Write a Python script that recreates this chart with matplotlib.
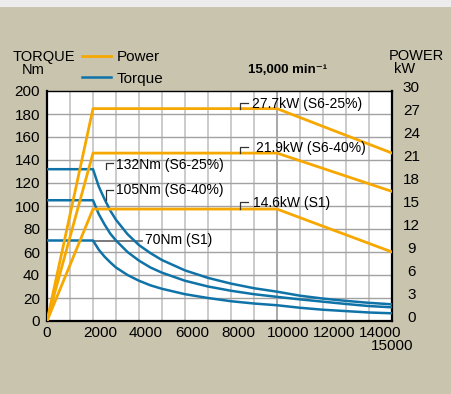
import matplotlib
matplotlib.use('Agg')
import matplotlib.pyplot as plt
import matplotlib.transforms as mtransforms
from matplotlib.lines import Line2D
from matplotlib.patches import Rectangle
from matplotlib.ticker import FixedLocator

plt.rcParams['font.family'] = ['Liberation Sans', 'DejaVu Sans']

# torque curves (Nm)
speed = [0, 2000, 2250, 2500, 2750, 3000, 3500, 4000, 4500, 5000, 6000,
         7000, 8000, 9000, 10000, 11000, 12000, 13000, 14000, 15000]
torque_s6_25 = [132, 132, 117, 106, 96, 88, 75.5, 66, 59, 53, 44,
                37.5, 32.5, 28.5, 25.5, 22, 19.5, 17.5, 15.8, 14.5]
torque_s6_40 = [105, 105, 93, 84, 76, 70, 60, 52.5, 46.5, 42, 35,
                30, 26.3, 23.3, 21, 18.8, 16.8, 14.8, 13, 11.9]
torque_s1 = [70, 70, 62, 56, 51, 46.5, 40, 35, 31, 28, 23.3,
             20, 17.2, 15.2, 13.7, 11.5, 9.8, 8.6, 7.4, 6.7]

# power curves (kW)
power_speed = [0, 2000, 10000, 15000]
power_s6_25 = [0, 27.7, 27.7, 21.9]
power_s6_40 = [0, 21.9, 21.9, 16.9]
power_s1 = [0, 14.6, 14.6, 9.0]

x_ticks = [0, 2000, 4000, 6000, 8000, 10000, 12000, 14000]
x_grid = [1000, 2000, 3000, 4000, 5000, 6000, 7000, 8000, 9000,
          11000, 12000, 13000, 14000]
torque_ticks = [0, 20, 40, 60, 80, 100, 120, 140, 160, 180, 200]
power_ticks = [0, 3, 6, 9, 12, 15, 18, 21, 24, 27, 30]

ORANGE = '#f7a800'
BLUE = '#0f73a8'
BG = '#c9c4ae'

W, H = 452, 394
fig = plt.figure(figsize=(W / 100, H / 100), dpi=100, facecolor=BG)
fig.patches.append(Rectangle((0, 1 - 7 / H), 1, 7 / H, transform=fig.transFigure,
                             facecolor='#ececec', edgecolor='none'))

ax = fig.add_axes([47 / W, 73 / H, 345 / W, 230 / H])
ax.set_facecolor('white')
ax.set_xlim(0, 15000)
ax.set_ylim(0, 200)

# grid
for g in x_grid:
    ax.axvline(g, color='#cbcbcb', lw=1.4, zorder=0)
ax.axvline(10000, color='#a8a8a8', lw=1.4, zorder=0)
for g in torque_ticks[1:-1]:
    ax.axhline(g, color='#a2a2a2', lw=1.0, zorder=0.5)

for t in (torque_s6_25, torque_s6_40, torque_s1):
    ax.plot(speed, t, color=BLUE, lw=1.8, zorder=3, solid_capstyle='butt')

ax.set_xticks(x_ticks)
ax.set_xticklabels([str(v) for v in x_ticks])
ax.xaxis.set_minor_locator(FixedLocator([15000]))
ax.xaxis.set_minor_formatter(lambda v, p: '15000')
ax.set_yticks(torque_ticks)
ax.tick_params(axis='x', which='major', length=0, pad=3.6, labelsize=11)
ax.tick_params(axis='x', which='minor', length=0, pad=12.8, labelsize=11)
ax.tick_params(axis='y', length=0, pad=5, labelsize=11)

for sp in ('left', 'bottom', 'right'):
    ax.spines[sp].set_linewidth(1.6)
    ax.spines[sp].set_color('black')
ax.spines['top'].set_linewidth(1.0)

# torque labels
hook = dict(color='#333333', lw=0.9, zorder=4)
ax.plot([2565, 2565, 2880], [132, 137, 137], **hook)
ax.text(3000, 136, '132Nm (S6-25%)', fontsize=10, va='center', ha='left')
ax.plot([2565, 2565, 2880], [105, 113.5, 113.5], **hook)
ax.text(3000, 114, '105Nm (S6-40%)', fontsize=10, va='center', ha='left')
ax.plot([2000, 4110], [70, 70], color='#707070', lw=1.3, zorder=2.5)
ax.text(4260, 70.5, '70Nm (S1)', fontsize=10, va='center', ha='left')

# power on the right axis
ax2 = ax.twinx()
ax2.set_ylim(0, 30)
for p in (power_s6_25, power_s6_40, power_s1):
    ax2.plot(power_speed, p, color=ORANGE, lw=2.0, zorder=3)
ax2.set_yticks(power_ticks)
ax2.tick_params(axis='y', length=0, pad=14, labelsize=11)
for sp in ax2.spines.values():
    sp.set_visible(False)

ax2.plot([8390, 8390, 8740], [27.7, 28.5, 28.5], **hook)
ax2.text(8900, 28.35, '27.7kW (S6-25%)', fontsize=10, va='center', ha='left')
ax2.plot([8390, 8390, 8740], [21.9, 22.7, 22.7], **hook)
ax2.text(9090, 22.6, '21.9kW (S6-40%)', fontsize=10, va='center', ha='left')
ax2.plot([8390, 8390, 8740], [14.6, 15.5, 15.5], **hook)
ax2.text(8960, 15.4, '14.6kW (S1)', fontsize=10, va='center', ha='left')

# label placement tweaks
dx_left = mtransforms.ScaledTranslation(-10 / 100, 0, fig.dpi_scale_trans)
for lbl in ax.get_xticklabels():
    if lbl.get_text() == '0':
        continue
    lbl.set_horizontalalignment('left')
    lbl.set_transform(lbl.get_transform() + dx_left)
dy_up = mtransforms.ScaledTranslation(0, 4.5 / 100, fig.dpi_scale_trans)
for lbl in ax2.get_yticklabels():
    lbl.set_horizontalalignment('center')
    lbl.set_transform(lbl.get_transform() + dy_up)

# header texts
fig.text(12.5 / W, 1 - 57 / H, 'TORQUE', fontsize=10.5, va='center', ha='left')
fig.text(21.5 / W, 1 - 69.5 / H, 'Nm', fontsize=10.5, va='center', ha='left')
fig.text(389 / W, 1 - 56 / H, 'POWER', fontsize=10.5, va='center', ha='left')
fig.text(394 / W, 1 - 68.7 / H, 'kW', fontsize=10.5, va='center', ha='left')
fig.text(248 / W, 1 - 70 / H, '15,000 min\u207b\u00b9', fontsize=9.5,
         fontweight='bold', va='center', ha='left')

handles = [Line2D([], [], color=ORANGE, lw=2.0), Line2D([], [], color=BLUE, lw=1.8)]
fig.legend(handles, ['Power', 'Torque'], loc='upper left',
           bbox_to_anchor=(82 / W, 1 - 50 / H), frameon=False, borderpad=0,
           borderaxespad=0, handlelength=1.9, handletextpad=0.35,
           labelspacing=0.5, fontsize=11)

fig.savefig('out.png', dpi=100, facecolor=BG)
